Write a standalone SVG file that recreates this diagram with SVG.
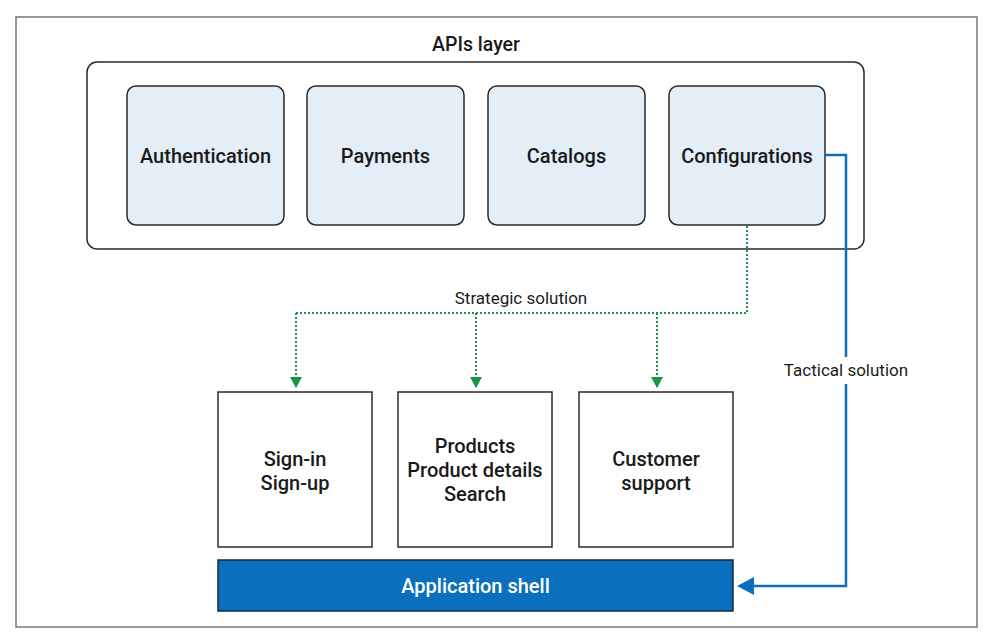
<svg xmlns="http://www.w3.org/2000/svg" width="987" height="634" viewBox="0 0 987 634">
<defs>
<style>
.t{font-family:Roboto,"Liberation Sans",sans-serif;font-weight:500;font-size:20px;fill:#1a1a1a;text-anchor:middle}
.l{font-family:Roboto,"Liberation Sans",sans-serif;font-weight:400;font-size:17px;fill:#1a1a1a;text-anchor:middle}
.api{fill:#e3eef7;stroke:#2a2a2a;stroke-width:1.5}
.app{fill:#fff;stroke:#2a2a2a;stroke-width:1.5}
.green{fill:none;stroke:#17944a;stroke-width:2;stroke-dasharray:2 2}
.blue{fill:none;stroke:#0a70bd;stroke-width:2.5}
</style>
<marker id="ga" viewBox="0 0 11 12" refX="11" refY="6" markerWidth="11" markerHeight="12" markerUnits="userSpaceOnUse" orient="auto">
<path d="M0,0 L11,6 L0,12 Z" fill="#17944a"/>
</marker>
</defs>
<rect x="0" y="0" width="987" height="634" fill="#fff"/>
<rect x="16" y="17" width="961" height="610" fill="none" stroke="#777" stroke-width="1.5"/>
<g id="apis-layer">
<text class="t" x="476" y="51" style="font-size:19.5px">APIs layer</text>
<rect x="87" y="62" width="777" height="187" rx="10" fill="#fff" stroke="#2a2a2a" stroke-width="1.5"/>
</g>
<g id="authentication">
<rect class="api" x="127" y="86" width="157" height="139" rx="9"/>
<text class="t" x="205.5" y="163">Authentication</text>
</g>
<g id="payments">
<rect class="api" x="307" y="86" width="157" height="139" rx="9"/>
<text class="t" x="385.5" y="163">Payments</text>
</g>
<g id="catalogs">
<rect class="api" x="488" y="86" width="157" height="139" rx="9"/>
<text class="t" x="566.5" y="163">Catalogs</text>
</g>
<g id="configurations">
<rect class="api" x="669" y="86" width="156" height="139" rx="9"/>
<text class="t" x="747" y="163">Configurations</text>
</g>
<g id="signin">
<rect class="app" x="218" y="392" width="154" height="155"/>
<text class="t" x="295" y="466">Sign-in</text>
<text class="t" x="295" y="490">Sign-up</text>
</g>
<g id="products">
<rect class="app" x="398" y="392" width="154" height="155"/>
<text class="t" x="475" y="453">Products</text>
<text class="t" x="475" y="477">Product details</text>
<text class="t" x="475" y="501">Search</text>
</g>
<g id="customer">
<rect class="app" x="579" y="392" width="154" height="155"/>
<text class="t" x="656" y="466">Customer</text>
<text class="t" x="656" y="490">support</text>
</g>
<g id="application-shell">
<rect x="218" y="560" width="515" height="51" fill="#0a70bd" stroke="#1a2a3a" stroke-width="1.5"/>
<text class="t" x="475.5" y="593" style="fill:#fff">Application shell</text>
</g>
<g id="connectors">
<path class="green" d="M747,226 V313 H296"/>
<path class="green" d="M296,313 V388" marker-end="url(#ga)"/>
<path class="green" d="M476,313 V388" marker-end="url(#ga)"/>
<path class="green" d="M657,313 V388" marker-end="url(#ga)"/>
<text class="l" x="521" y="304">Strategic solution</text>
<path class="blue" d="M826,155 H846 V586 H752"/>
<path d="M737,586 L754,577 L754,595 Z" fill="#0a70bd"/>
<rect x="782" y="357" width="128" height="27" fill="#fff"/>
<text class="l" x="846" y="376">Tactical solution</text>
</g>
</svg>
